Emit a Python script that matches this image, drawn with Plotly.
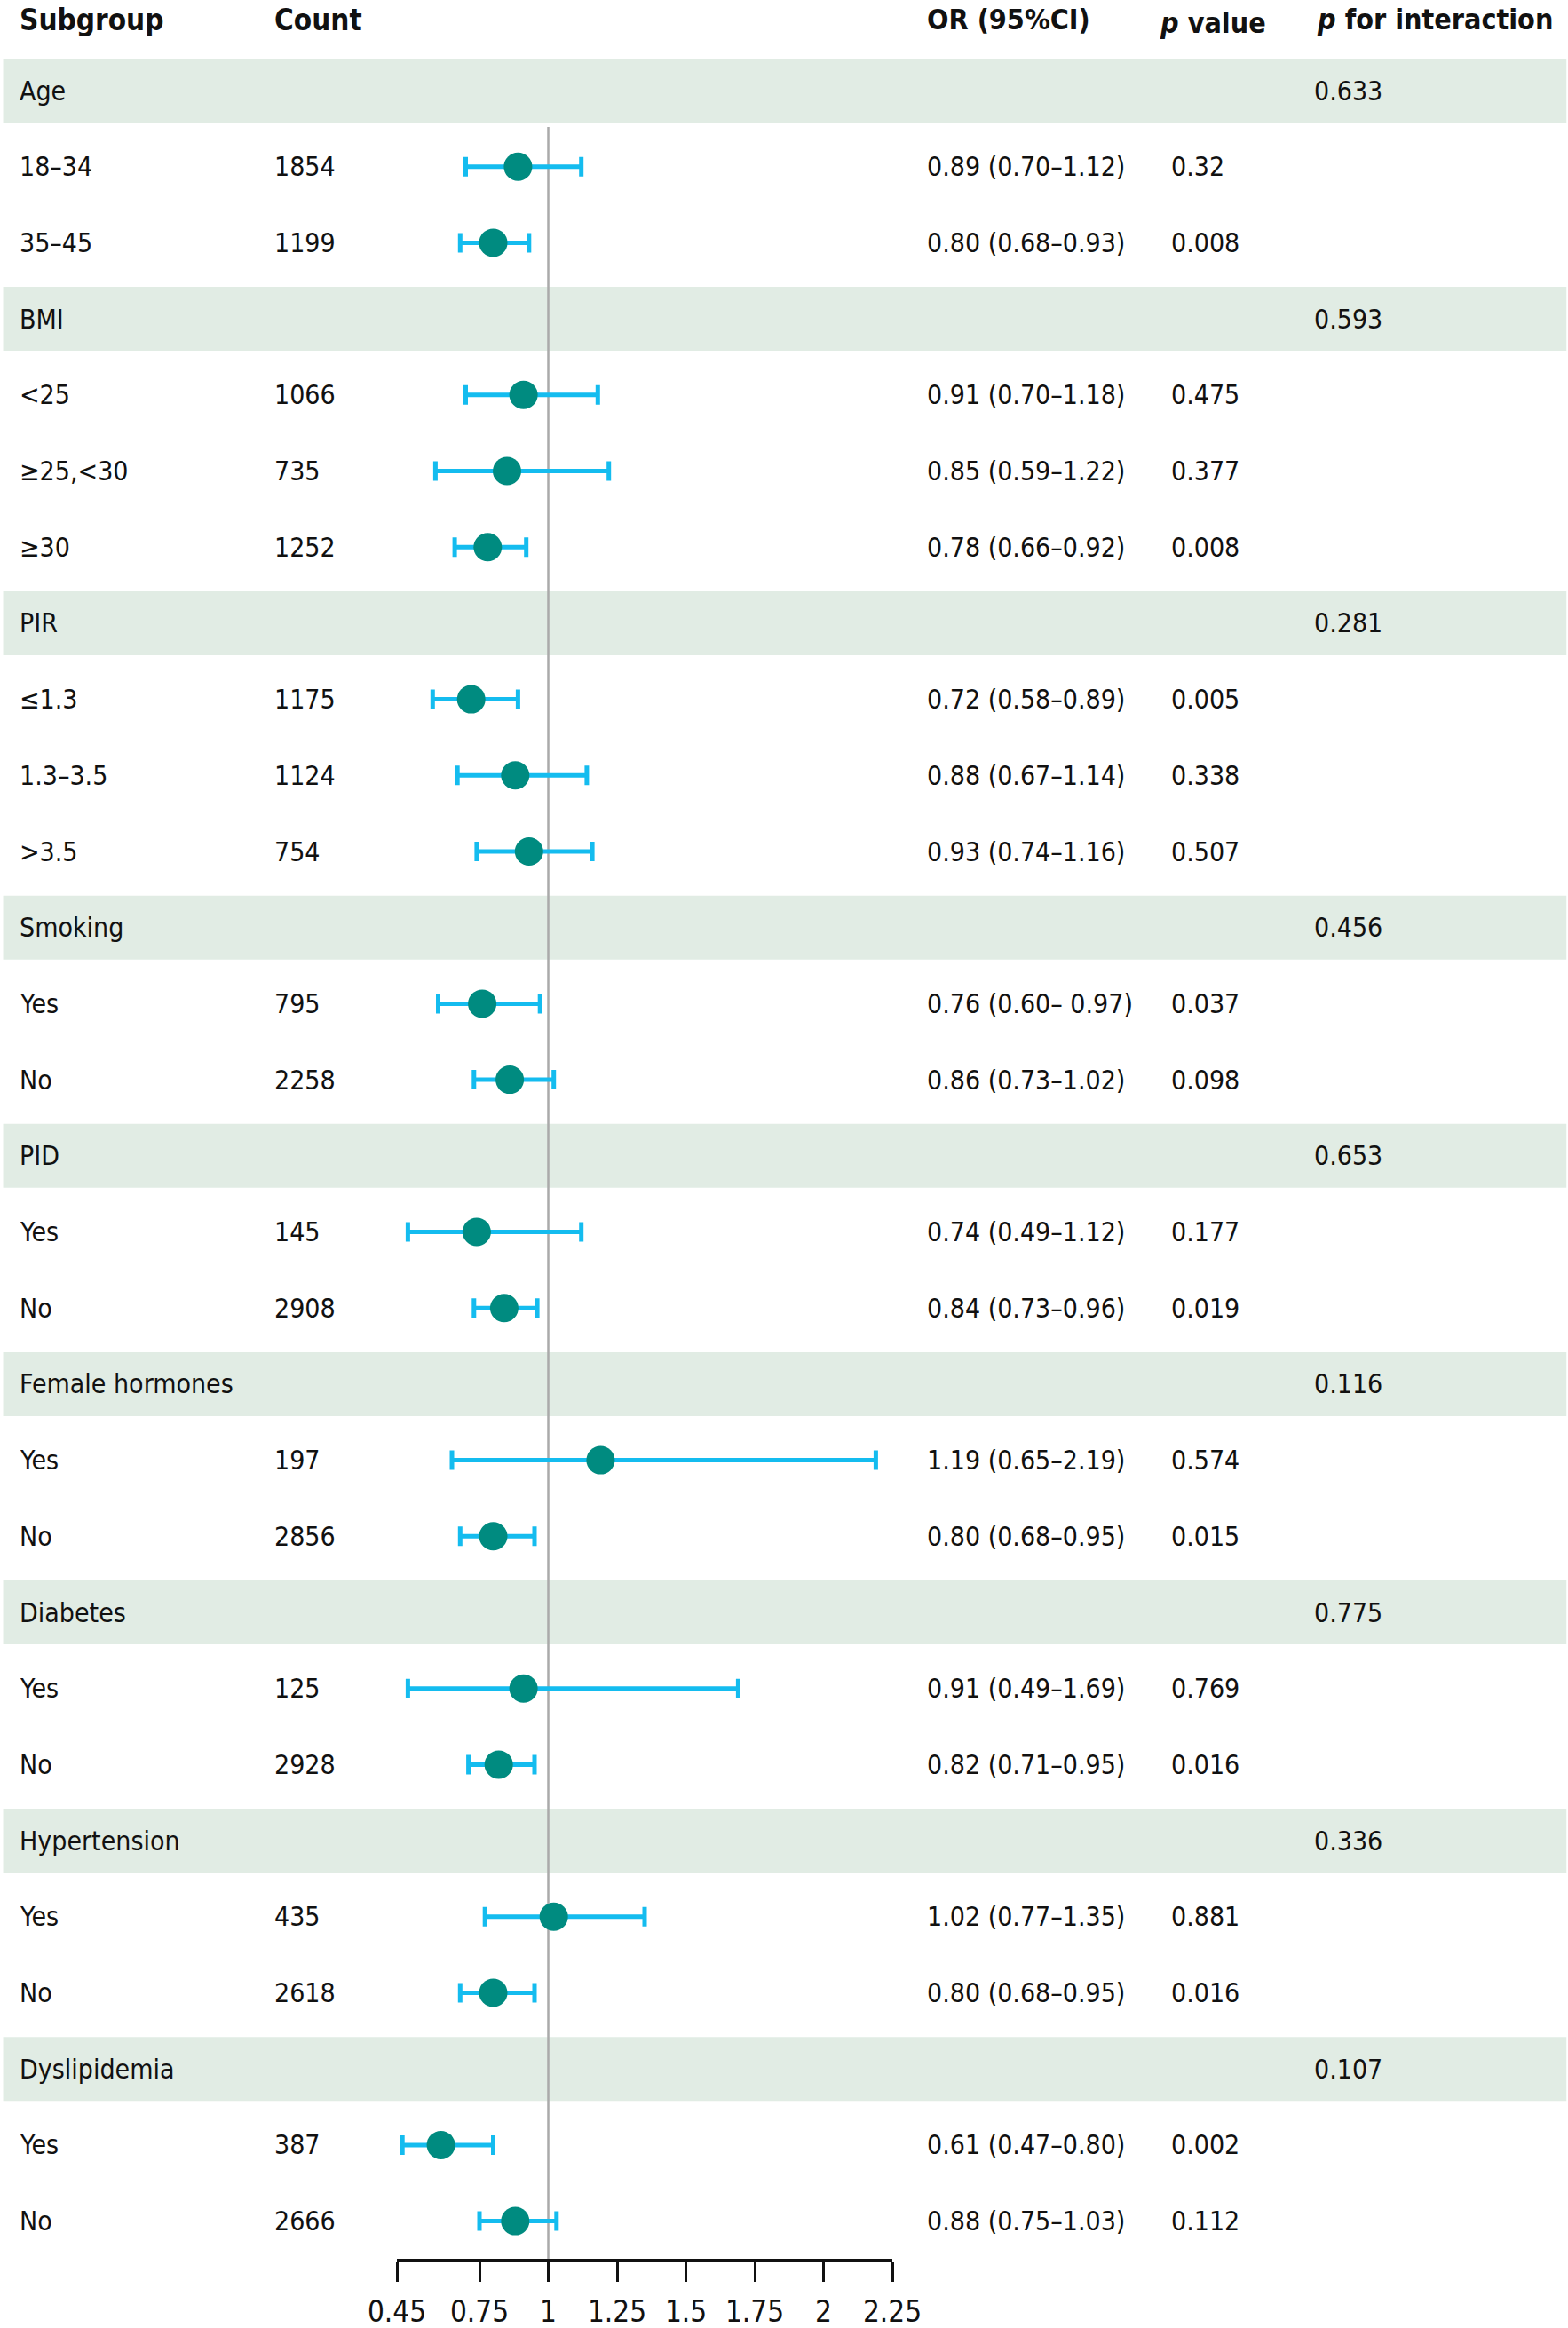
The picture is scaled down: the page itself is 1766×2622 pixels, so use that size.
import plotly.graph_objects as go

W, H = 1766, 2622

group_names = ["Age", "BMI", "PIR", "Smoking", "PID", "Female hormones",
               "Diabetes", "Hypertension", "Dyslipidemia"]
p_interaction = ["0.633", "0.593", "0.281", "0.456", "0.653", "0.116",
                 "0.775", "0.336", "0.107"]
sub_labels = [
    ["18–34", "35–45"],
    ["&lt;25", "≥25,&lt;30", "≥30"],
    ["≤1.3", "1.3–3.5", "&gt;3.5"],
    ["Yes", "No"],
    ["Yes", "No"],
    ["Yes", "No"],
    ["Yes", "No"],
    ["Yes", "No"],
    ["Yes", "No"],
]
counts = [1854, 1199, 1066, 735, 1252, 1175, 1124, 754, 795, 2258,
          145, 2908, 197, 2856, 125, 2928, 435, 2618, 387, 2666]
or_vals = [0.89, 0.80, 0.91, 0.85, 0.78, 0.72, 0.88, 0.93, 0.76, 0.86,
           0.74, 0.84, 1.19, 0.80, 0.91, 0.82, 1.02, 0.80, 0.61, 0.88]
ci_low = [0.70, 0.68, 0.70, 0.59, 0.66, 0.58, 0.67, 0.74, 0.60, 0.73,
          0.49, 0.73, 0.65, 0.68, 0.49, 0.71, 0.77, 0.68, 0.47, 0.75]
ci_high = [1.12, 0.93, 1.18, 1.22, 0.92, 0.89, 1.14, 1.16, 0.97, 1.02,
           1.12, 0.96, 2.19, 0.95, 1.69, 0.95, 1.35, 0.95, 0.80, 1.03]
ci_text = ["0.89 (0.70–1.12)", "0.80 (0.68–0.93)", "0.91 (0.70–1.18)",
           "0.85 (0.59–1.22)", "0.78 (0.66–0.92)", "0.72 (0.58–0.89)",
           "0.88 (0.67–1.14)", "0.93 (0.74–1.16)", "0.76 (0.60– 0.97)",
           "0.86 (0.73–1.02)", "0.74 (0.49–1.12)", "0.84 (0.73–0.96)",
           "1.19 (0.65–2.19)", "0.80 (0.68–0.95)", "0.91 (0.49–1.69)",
           "0.82 (0.71–0.95)", "1.02 (0.77–1.35)", "0.80 (0.68–0.95)",
           "0.61 (0.47–0.80)", "0.88 (0.75–1.03)"]
p_values = ["0.32", "0.008", "0.475", "0.377", "0.008", "0.005", "0.338",
            "0.507", "0.037", "0.098", "0.177", "0.019", "0.574", "0.015",
            "0.769", "0.016", "0.881", "0.016", "0.002", "0.112"]
tick_vals = [0.45, 0.75, 1, 1.25, 1.5, 1.75, 2, 2.25]
tick_text = ["0.45", "0.75", "1", "1.25", "1.5", "1.75", "2", "2.25"]

# layout geometry (pixels)
ROW0, PITCH = 102, 85.7
def row_of(py):
    return (py - ROW0) / PITCH
def px(x):
    return x / W

FONT = "Liberation Sans Narrow, Arial Narrow, DejaVu Sans Condensed, sans-serif"
BAND = "#E1ECE4"
BAR = "#14BCEF"
DOT = "#008B80"

group_rows, sub_rows, sub_text_labels = [], [], []
r = 0
for g, subs in zip(group_names, sub_labels):
    group_rows.append(r)
    r += 1
    for s in subs:
        sub_rows.append(r)
        sub_text_labels.append(s)
        r += 1

fig = go.Figure()
fig.add_trace(go.Scatter(
    x=or_vals, y=sub_rows, mode="markers",
    marker=dict(size=32, color=DOT, line=dict(width=0)),
    error_x=dict(type="data", symmetric=False,
                 array=[h - o for h, o in zip(ci_high, or_vals)],
                 arrayminus=[o - l for o, l in zip(or_vals, ci_low)],
                 color=BAR, thickness=5, width=11),
    showlegend=False, hoverinfo="skip", cliponaxis=False,
))

shapes = []
for gr in group_rows:
    shapes.append(dict(type="rect", xref="paper", yref="y", x0=0.002, x1=0.999,
                       y0=gr - 36 / PITCH, y1=gr + 36 / PITCH,
                       fillcolor=BAND, line=dict(width=0), layer="below"))
shapes.append(dict(type="line", xref="x", yref="y", x0=1, x1=1,
                   y0=row_of(143), y1=row_of(2546),
                   line=dict(color="#AAAAAA", width=2.5), layer="below"))

ann = []
def add_text(x, y, t, size=30):
    ann.append(dict(x=px(x), y=y, xref="paper", yref="y", text=t,
                    showarrow=False, xanchor="left", yanchor="middle",
                    font=dict(family=FONT, size=size, color="#111111")))

hy = row_of(22)
add_text(20, hy, "<b>Subgroup</b>", 33)
add_text(307, hy, "<b>Count</b>", 33)
add_text(1042, hy, "<b>OR (95%CI)</b>", 32)
add_text(1304, hy + 0.05, "<b><i>p</i> value</b>", 32)
add_text(1481, hy, "<b><i>p</i> for interaction</b>", 32)

for gr, g, pi in zip(group_rows, group_names, p_interaction):
    add_text(20, gr, g)
    add_text(1478, gr, pi)
for sr, s, c, ct, pv in zip(sub_rows, sub_text_labels, counts, ci_text, p_values):
    add_text(20, sr, s)
    add_text(307, sr, str(c))
    add_text(1042, sr, ct)
    add_text(1317, sr, pv)

fig.update_layout(
    width=W, height=H, autosize=False,
    margin=dict(l=0, r=0, t=0, b=0, pad=0, autoexpand=False),
    paper_bgcolor="white", plot_bgcolor="white",
    shapes=shapes, annotations=ann,
    xaxis=dict(domain=[447 / W, 1005 / W], range=[0.45, 2.25],
               anchor="free", position=1 - 2546 / H, automargin=False,
               showgrid=False, zeroline=False,
               showline=True, linecolor="#111111", linewidth=3.5,
               ticks="outside", ticklen=22, tickwidth=2.5, tickcolor="#111111",
               tickvals=tick_vals, ticktext=tick_text, ticklabelstandoff=6,
               tickfont=dict(family=FONT, size=33, color="#111111"),
               fixedrange=True),
    yaxis=dict(range=[row_of(H), row_of(0)], visible=False, automargin=False,
               showgrid=False, zeroline=False, fixedrange=True),
)

fig.write_html("out.html", config={"responsive": False, "displayModeBar": False},
               post_script="document.body.style.margin='0';document.body.style.overflow='hidden';")
